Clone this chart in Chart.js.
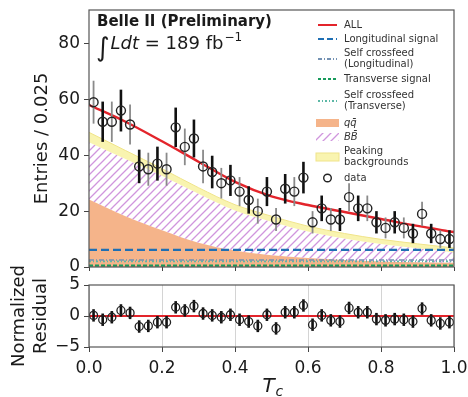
<!DOCTYPE html>
<html>
<head>
<meta charset="utf-8">
<script src="https://cdn.jsdelivr.net/npm/chart.js@4.4.0/dist/chart.umd.min.js"></script>
<style>
  body { margin: 0; background: #fff; }
  #wrap { position: relative; width: 468px; height: 397px; }
  #main { position: absolute; left: 0; top: 0; }
  #resid { position: absolute; left: 0; top: 230px; }
</style>
</head>
<body>
<div id="wrap">
  <canvas id="main" width="468" height="278"></canvas>
  <canvas id="resid" width="468" height="167"></canvas>
</div>
<script>
// bins of T_c (width 0.025)
const binWidth = 0.025;
const counts = [59, 52, 52, 56, 51, 36, 35, 37, 35, 50, 43, 46, 36, 34, 30, 31, 27, 24, 20, 27,
                17, 28, 27, 32, 16, 21, 17, 17, 25, 21, 21, 16, 14, 16, 14, 12, 19, 12, 10, 10];
const residuals = [0.1, -0.6, -0.2, 0.9, 0.5, -1.7, -1.6, -1.0, -1.0, 1.4, 0.9, 1.6, 0.4, 0.1, -0.2, 0.2, -0.6, -0.9, -1.6, 0.2,
                   -2.0, 0.6, 0.6, 1.7, -1.4, 0.1, -0.7, -0.9, 1.3, 0.6, 0.6, -0.5, -0.7, -0.5, -0.6, -0.9, 1.2, -0.7, -1.2, -1.0];

// fit components sampled along T_c
const tC      = [0, 0.1, 0.2, 0.3, 0.4, 0.5, 0.6, 0.7, 0.8, 0.9, 1.0];
const fitAll  = [58, 52, 45, 37.7, 30.5, 25.3, 22.2, 19.7, 17.2, 14.7, 12.5];
const qqBkg   = [24.2, 18.2, 13.2, 8.7, 5.9, 4.2, 3.2, 2.5, 2.0, 1.7, 1.5];
const bbBkg   = [20.5, 20.5, 19.5, 17.5, 14.3, 12.0, 9.5, 7.7, 6.2, 5.0, 3.7];
const peakBkg = [3.5, 3.0, 2.5, 2.2, 2.1, 2.0, 1.9, 1.8, 1.7, 1.6, 1.6];
// flat signal components: longitudinal, self crossfeed (L), transverse, self crossfeed (T)
const signalLevels = [6.1, 2.5, 0.5, 2.0];

const RED = '#e3242b', BLUE = '#1f6fb4', SLATE = '#7391b3', GREEN = '#179a5b', TEAL = '#5cb8a6';
const ORANGE = '#f5b48a', YELLOW = '#f9f4b0', YELLOW_EDGE = '#f0e48a', TXT = '#1a1a1a';

Chart.defaults.font.family = '"DejaVu Sans", sans-serif';
Chart.defaults.color = TXT;

function makeHatch() {
  const c = document.createElement('canvas');
  c.width = 8; c.height = 8;
  const g = c.getContext('2d');
  g.strokeStyle = '#d096dd';
  g.lineWidth = 1.3;
  g.beginPath();
  g.moveTo(0, 8); g.lineTo(8, 0);
  g.moveTo(-2, 2); g.lineTo(2, -2);
  g.moveTo(6, 10); g.lineTo(10, 6);
  g.stroke();
  return g.createPattern(c, 'repeat');
}
const hatch = makeHatch();

const toXY = arr => arr.map((v, i) => ({ x: tC[i], y: v }));
const flat = v => [{ x: 0, y: v }, { x: 1, y: v }];

let bbTop = qqBkg.map((v, i) => v + bbBkg[i]);
let peakTop = bbTop.map((v, i) => v + peakBkg[i]);

const dataPts = counts.map((n, i) => ({ x: (i + 0.5) * binWidth, y: n }));
const residPts = residuals.map((r, i) => ({ x: (i + 0.5) * binWidth, y: r }));

const errorBars = {
  id: 'errorBars',
  beforeDatasetDraw(chart, args) {
    const ds = chart.data.datasets[args.index];
    if (!ds.errors) return;
    const ctx = chart.ctx, x = chart.scales.x, y = chart.scales.y;
    ctx.save();
    ds.data.forEach((p, i) => {
      const px = x.getPixelForValue(p.x);
      const dark = ds.alternate ? i % 2 === 1 : true;
      ctx.strokeStyle = dark ? '#111' : '#8a8a8a';
      ctx.lineWidth = dark ? 2.6 : 1.8;
      ctx.beginPath();
      ctx.moveTo(px, y.getPixelForValue(p.y - ds.errors[i]));
      ctx.lineTo(px, y.getPixelForValue(p.y + ds.errors[i]));
      ctx.stroke();
    });
    ctx.restore();
  }
};

const frame = {
  id: 'frame',
  afterDraw(chart) {
    const a = chart.chartArea, ctx = chart.ctx;
    ctx.save();
    ctx.strokeStyle = '#555';
    ctx.lineWidth = 1.2;
    ctx.strokeRect(a.left, a.top, a.right - a.left, a.bottom - a.top);
    ctx.restore();
  }
};

const legendRows = [
  { kind: 'line', color: RED, dash: [], y: 25, text: ['ALL'] },
  { kind: 'line', color: BLUE, dash: [6, 3], y: 39, text: ['Longitudinal signal'] },
  { kind: 'line', color: SLATE, dash: [4, 2, 1, 2], y: 59, text: ['Self crossfeed', '(Longitudinal)'] },
  { kind: 'line', color: GREEN, dash: [3, 2], y: 79, text: ['Transverse signal'] },
  { kind: 'line', color: TEAL, dash: [2, 2, 1, 2], y: 101, text: ['Self crossfeed', '(Transverse)'] },
  { kind: 'box', fill: ORANGE, y: 123, text: ['qq\u0304'], italic: true },
  { kind: 'box', fill: hatch, y: 137, text: ['BB\u0304'], italic: true },
  { kind: 'box', fill: YELLOW, edge: YELLOW_EDGE, y: 157, text: ['Peaking', 'backgrounds'] },
  { kind: 'circle', y: 178, text: ['data'] }
];

const mainText = {
  id: 'mainText',
  afterDraw(chart) {
    const ctx = chart.ctx, a = chart.chartArea;
    ctx.save();
    ctx.fillStyle = TXT;
    ctx.textBaseline = 'alphabetic';
    ctx.font = 'bold 15px "DejaVu Sans"';
    ctx.fillText('Belle II (Preliminary)', a.left + 8, 26);

    let x = a.left + 7;
    ctx.font = '26px "DejaVu Sans"';
    ctx.fillText('\u222B', x, 56);
    x += ctx.measureText('\u222B').width + 1;
    ctx.font = 'italic 18px "DejaVu Sans"';
    ctx.fillText('Ldt', x, 49);
    x += ctx.measureText('Ldt').width;
    ctx.font = '18px "DejaVu Sans"';
    ctx.fillText(' = 189 fb', x, 49);
    x += ctx.measureText(' = 189 fb').width + 1;
    ctx.font = '12px "DejaVu Sans"';
    ctx.fillText('\u22121', x, 41);

    // legend
    const x0 = a.right - 136, x1 = a.right - 117, tx = a.right - 110;
    ctx.textBaseline = 'middle';
    legendRows.forEach(r => {
      if (r.kind === 'line') {
        ctx.strokeStyle = r.color;
        ctx.lineWidth = 2;
        ctx.setLineDash(r.dash);
        ctx.beginPath(); ctx.moveTo(x0, r.y); ctx.lineTo(x1, r.y); ctx.stroke();
        ctx.setLineDash([]);
      } else if (r.kind === 'box') {
        ctx.fillStyle = r.fill;
        ctx.fillRect(x0 - 2, r.y - 4, x1 - x0 + 4, 8);
        if (r.edge) {
          ctx.strokeStyle = r.edge; ctx.lineWidth = 1;
          ctx.strokeRect(x0 - 2, r.y - 4, x1 - x0 + 4, 8);
        }
      } else {
        ctx.strokeStyle = '#222'; ctx.lineWidth = 1.4;
        ctx.beginPath(); ctx.arc((x0 + x1) / 2, r.y, 3.8, 0, Math.PI * 2); ctx.stroke();
      }
      ctx.fillStyle = '#333';
      ctx.font = (r.italic ? 'italic ' : '') + '10px "DejaVu Sans"';
      const n = r.text.length;
      r.text.forEach((t, k) => ctx.fillText(t, tx, r.y + (k - (n - 1) / 2) * 11));
    });
    ctx.restore();
  }
};

const lineDs = (data, color, dash, order, extra) => Object.assign({
  data, borderColor: color, borderWidth: 2.2, borderDash: dash, pointRadius: 0,
  cubicInterpolationMode: 'monotone', fill: false, order
}, extra || {});

new Chart(document.getElementById('main'), {
  type: 'line',
  data: {
    datasets: [
      { data: dataPts, showLine: false, pointRadius: 4.5, pointBorderWidth: 1.4,
        pointBorderColor: '#222', pointBackgroundColor: 'rgba(0,0,0,0)',
        errors: counts.map(Math.sqrt), alternate: true, order: 0 },
      lineDs(toXY(fitAll), RED, [], 1, { borderWidth: 2.4 }),
      lineDs(flat(signalLevels[0]), BLUE, [8, 4], 2),
      lineDs(flat(signalLevels[1]), SLATE, [5, 2, 1, 2], 3, { borderWidth: 1.6 }),
      lineDs(flat(signalLevels[2]), GREEN, [4, 2], 4),
      lineDs(flat(signalLevels[3]), TEAL, [2, 2, 1, 2], 5, { borderWidth: 1.6 }),
      lineDs(toXY(peakTop), YELLOW_EDGE, [], 6, { borderWidth: 1, fill: 7, backgroundColor: YELLOW }),
      lineDs(toXY(bbTop), 'rgba(0,0,0,0)', [], 7, { borderWidth: 0, fill: 8, backgroundColor: hatch }),
      lineDs(toXY(qqBkg), 'rgba(0,0,0,0)', [], 8, { borderWidth: 0, fill: 'origin', backgroundColor: ORANGE })
    ]
  },
  options: {
    responsive: false,
    animation: false,
    layout: { padding: { top: 10, right: 14, left: 0, bottom: 0 } },
    plugins: { legend: { display: false }, tooltip: { enabled: false }, filler: { propagate: false } },
    scales: {
      x: {
        type: 'linear', min: 0, max: 1,
        ticks: { display: false, stepSize: 0.2 },
        grid: { drawOnChartArea: false, tickLength: 4, tickColor: '#444' },
        border: { display: false },
        afterFit: s => { s.height = 11; s.paddingLeft = 0; s.paddingRight = 0; }
      },
      y: {
        min: 0, max: 92,
        ticks: { stepSize: 20, padding: 4, font: { size: 17 }, color: TXT },
        afterBuildTicks: s => { s.ticks = s.ticks.filter(t => t.value % 20 === 0); },
        grid: { drawOnChartArea: false, tickLength: 5, tickColor: '#444' },
        border: { display: false },
        title: { display: true, text: 'Entries / 0.025', font: { size: 18 }, color: TXT, padding: { top: 32, bottom: 0 } },
        afterFit: s => { s.width = 89; s.paddingTop = 0; s.paddingBottom = 0; }
      }
    }
  },
  plugins: [errorBars, frame, mainText]
});

const residTitle = {
  id: 'residTitle',
  afterDraw(chart) {
    const ctx = chart.ctx, a = chart.chartArea;
    const cx = (a.left + a.right) / 2;
    ctx.save();
    ctx.fillStyle = TXT;
    ctx.textBaseline = 'alphabetic';
    ctx.font = 'italic 20px "DejaVu Sans"';
    const w = ctx.measureText('T').width;
    ctx.fillText('T', cx - w / 2 - 3, 162);
    ctx.font = 'italic 14px "DejaVu Sans"';
    ctx.fillText('c', cx + w / 2 - 2, 166);
    ctx.restore();
  }
};

new Chart(document.getElementById('resid'), {
  type: 'line',
  data: {
    datasets: [
      { data: residPts, showLine: false, pointRadius: 4, pointBorderWidth: 1.3,
        pointBorderColor: '#222', pointBackgroundColor: 'rgba(0,0,0,0)',
        errors: residuals.map(() => 1), alternate: false, order: 0 },
      { data: flat(0), borderColor: RED, borderWidth: 2, pointRadius: 0, order: 1 }
    ]
  },
  options: {
    responsive: false,
    animation: false,
    layout: { padding: { top: 55, right: 14, left: 0, bottom: 0 } },
    plugins: { legend: { display: false }, tooltip: { enabled: false } },
    scales: {
      x: {
        type: 'linear', min: 0, max: 1,
        ticks: { stepSize: 0.2, callback: v => v.toFixed(1), font: { size: 17 }, padding: 6, maxRotation: 0, color: TXT },
        grid: { color: '#d4d4d4', tickLength: 5, tickColor: '#444' },
        border: { display: false },
        afterFit: s => { s.height = 50; s.paddingLeft = 0; s.paddingRight = 0; }
      },
      y: {
        min: -5, max: 5,
        ticks: { stepSize: 5, padding: 4, font: { size: 17 }, color: TXT, callback: v => String(v).replace('-', '\u2212') },
        grid: { drawOnChartArea: false, tickLength: 5, tickColor: '#444' },
        border: { display: false },
        title: { display: true, text: ['Normalized', 'Residual'], font: { size: 18 }, color: TXT, padding: { top: 9, bottom: 0 } },
        afterFit: s => { s.width = 89; s.paddingTop = 0; s.paddingBottom = 0; }
      }
    }
  },
  plugins: [errorBars, frame, residTitle]
});
</script>
</body>
</html>
